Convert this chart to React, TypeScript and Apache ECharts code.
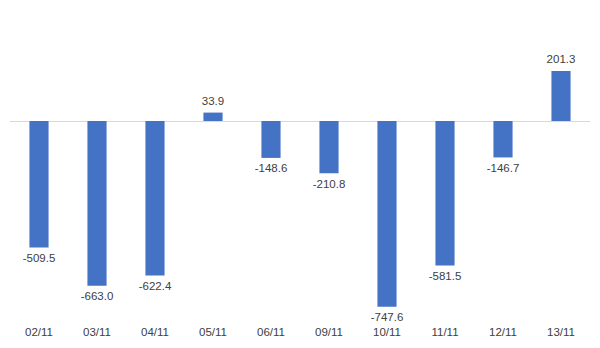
import React, { useEffect, useRef } from "react";
import * as echarts from "echarts";

const categories = ["02/11", "03/11", "04/11", "05/11", "06/11", "09/11", "10/11", "11/11", "12/11", "13/11"];
const values = [-509.5, -663.0, -622.4, 33.9, -148.6, -210.8, -747.6, -581.5, -146.7, 201.3];

export default function App() {
  const ref = useRef<HTMLDivElement>(null);
  useEffect(() => {
    if (!ref.current) return;
    const chart = echarts.init(ref.current, null, { renderer: "svg" });
    const font = "'Liberation Sans', Arial, sans-serif";
    chart.setOption({
      animation: false,
      backgroundColor: "#ffffff",
      textStyle: { fontFamily: font },
      grid: { left: 10, right: 10, top: 46.5, bottom: 28.3, containLabel: false },
      xAxis: [
        {
          type: "category",
          data: categories,
          axisLine: { show: true, onZero: true, lineStyle: { color: "#d9d9d9", width: 1 } },
          axisTick: { show: false },
          axisLabel: { show: false },
          splitLine: { show: false },
        },
        {
          type: "category",
          data: categories,
          position: "bottom",
          axisLine: { show: false, onZero: false },
          axisTick: { show: false },
          axisLabel: { show: true, color: "#404040", fontSize: 11.5, fontFamily: font, margin: 6.5 },
          splitLine: { show: false },
        },
      ],
      yAxis: {
        type: "value",
        min: -800,
        max: 300,
        show: false,
        splitLine: { show: false },
      },
      series: [
        {
          type: "bar",
          xAxisIndex: 0,
          barWidth: "33%",
          itemStyle: { color: "#4472c4" },
          data: values.map((v) => ({
            value: v,
            label: {
              show: true,
              position: v >= 0 ? "top" : "bottom",
              distance: v >= 0 ? 6 : 4.5,
              formatter: () => v.toFixed(1),
              color: "#404040",
              fontSize: 11.5,
              fontFamily: font,
            },
          })),
        },
      ],
    });
    return () => chart.dispose();
  }, []);
  return <div ref={ref} style={{ position: "absolute", left: 0, top: 0, width: 600, height: 348 }} />;
}
